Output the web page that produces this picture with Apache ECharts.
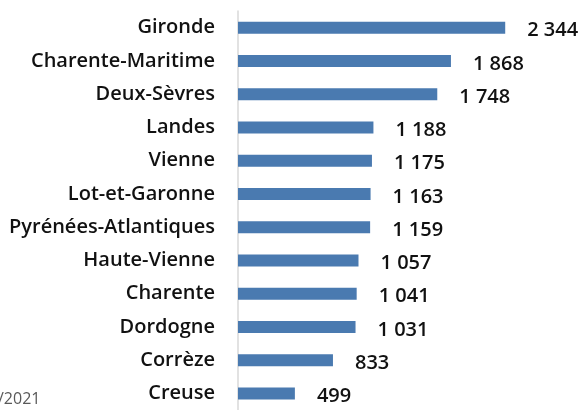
<!DOCTYPE html>
<html>
<head>
<meta charset="utf-8">
<script src="https://cdn.jsdelivr.net/npm/echarts@6/dist/echarts.min.js"></script>
<style>
  html, body { margin: 0; padding: 0; background: #fff; }
  #chart { width: 582px; height: 410px; }
</style>
</head>
<body>
<div id="chart"></div>
<script>
// departements, top to bottom as in the picture
const departements = [
  'Gironde', 'Charente-Maritime', 'Deux-Sèvres', 'Landes', 'Vienne',
  'Lot-et-Garonne', 'Pyrénées-Atlantiques', 'Haute-Vienne', 'Charente',
  'Dordogne', 'Corrèze', 'Creuse'
];
const effectifs = [2344, 1868, 1748, 1188, 1175, 1163, 1159, 1057, 1041, 1031, 833, 499];
const footnote = '/2021';

const fmt = v => String(v).replace(/\B(?=(\d{3})+(?!\d))/g, '\u00a0');

const chart = echarts.init(document.getElementById('chart'));
chart.setOption({
  animation: false,
  grid: { left: 238, top: 11, width: 342, height: 404 },
  xAxis: {
    type: 'value',
    min: 0,
    max: 3000,
    show: false
  },
  yAxis: {
    type: 'category',
    inverse: true,
    data: departements,
    axisLine: { show: true, lineStyle: { color: '#d9d9d9', width: 1.5 } },
    axisTick: { show: false },
    axisLabel: {
      margin: 23,
      color: '#111',
      fontFamily: 'Open Sans',
      fontWeight: 600,
      fontSize: 20
    }
  },
  series: [{
    type: 'bar',
    data: effectifs,
    barWidth: 12,
    itemStyle: { color: '#4a7ab0' },
    label: {
      show: true,
      position: 'right',
      distance: 22,
      offset: [0, 3],
      color: '#111',
      fontFamily: 'Open Sans',
      fontWeight: 600,
      fontSize: 20,
      formatter: p => fmt(p.value)
    }
  }],
  graphic: [{
    type: 'text',
    left: -2,
    top: 391,
    style: {
      text: footnote,
      fill: '#595959',
      font: '16px "Open Sans"'
    }
  }]
});
</script>
</body>
</html>
